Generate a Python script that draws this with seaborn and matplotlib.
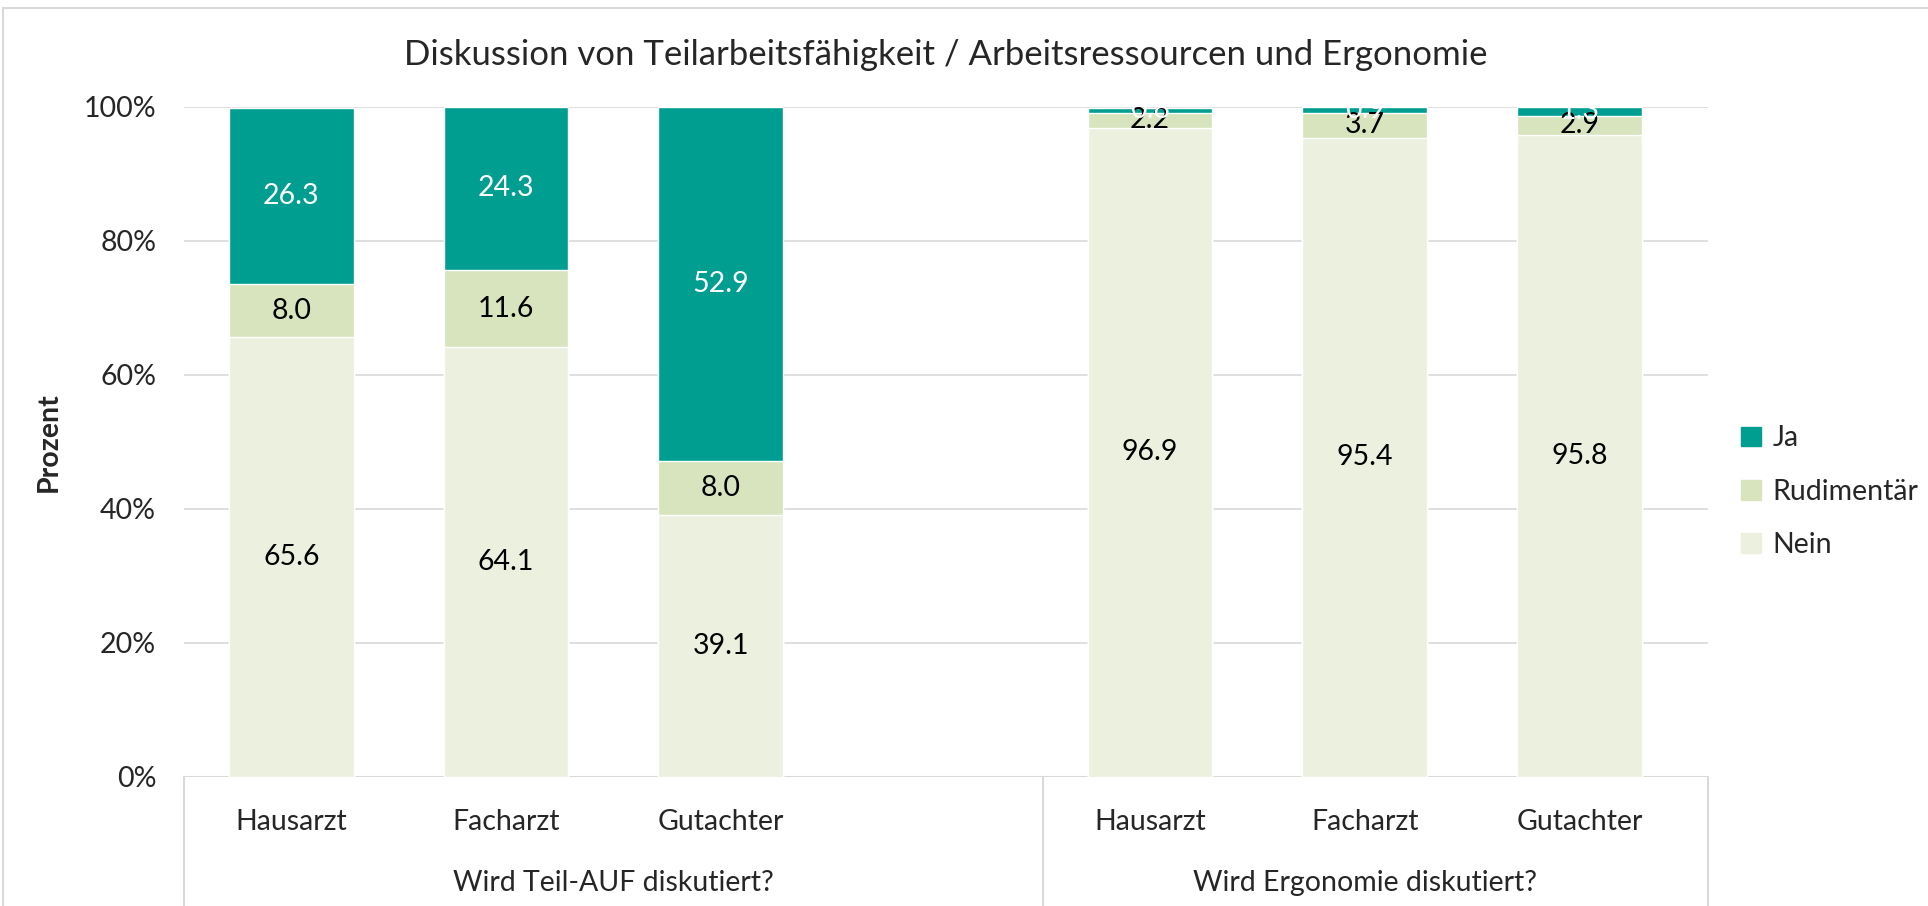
import matplotlib
matplotlib.use("Agg")
import matplotlib.pyplot as plt
import matplotlib.transforms as mtransforms
from matplotlib.patches import Rectangle, Patch
import seaborn as sns
import pandas as pd
import numpy as np

# Data
categories = ["Hausarzt", "Facharzt", "Gutachter", "Hausarzt", "Facharzt", "Gutachter"]
positions = [0, 1, 2, 4, 5, 6]  # empty slot between the two groups
groups = ["Wird Teil-AUF diskutiert?", "Wird Ergonomie diskutiert?"]
ja = [26.3, 24.3, 52.9, 0.8, 0.9, 1.3]
rudimentaer = [8.0, 11.6, 8.0, 2.2, 3.7, 2.9]
nein = [65.6, 64.1, 39.1, 96.9, 95.4, 95.8]

c_ja = "#009E91"
c_rud = "#D7E4BD"
c_nein = "#EBF1DE"

df = pd.DataFrame({"pos": positions, "cat": categories,
                   "Ja": ja, "Rudimentär": rudimentaer, "Nein": nein})
df["top_rud"] = df["Nein"] + df["Rudimentär"]
df["top_ja"] = df["top_rud"] + df["Ja"]

sns.set_style("white")
plt.rcParams["font.family"] = ["Lato", "DejaVu Sans"]

fig = plt.figure(figsize=(19.28, 9.06), dpi=100)
ax = fig.add_axes([0.0954, 0.1424, 0.7906, 0.7396])

# stacked bars drawn back to front (cumulative heights)
bw = 0.58
sns.barplot(data=df, x="pos", y="top_ja", native_scale=True, color=c_ja,
            width=bw, saturation=1, ax=ax, zorder=2)
sns.barplot(data=df, x="pos", y="top_rud", native_scale=True, color=c_rud,
            width=bw, saturation=1, ax=ax, zorder=3)
sns.barplot(data=df, x="pos", y="Nein", native_scale=True, color=c_nein,
            width=bw, saturation=1, ax=ax, zorder=4)

# data labels
fs = 20.5
for _, r in df.iterrows():
    ax.text(r["pos"], r["Nein"] / 2, f"{r['Nein']:.1f}", ha="center", va="center",
            fontsize=fs, color="black", zorder=6)
    ax.text(r["pos"], r["Nein"] + r["Rudimentär"] / 2, f"{r['Rudimentär']:.1f}",
            ha="center", va="center", fontsize=fs, color="black", zorder=6)
    ax.text(r["pos"], r["top_rud"] + r["Ja"] / 2, f"{r['Ja']:.1f}", ha="center",
            va="center", fontsize=fs, color="white", zorder=7)

ax.set_xlim(-0.5, 6.6)
ax.set_ylim(0, 100)
ax.set_yticks(np.arange(0, 101, 20))
ax.set_yticklabels([f"{v}%" for v in range(0, 101, 20)], fontsize=fs)
ax.yaxis.grid(True, color="#D9D9D9", linewidth=1.2, zorder=0)
ax.set_axisbelow(True)
for s in ax.spines.values():
    s.set_visible(False)
ax.tick_params(axis="y", length=0, pad=20)

ax.set_xticks(positions)
ax.set_xticklabels(categories, fontsize=fs)
ax.tick_params(axis="x", length=0, pad=23)
ax.set_xlabel("")
ax.set_ylabel("Prozent", fontsize=fs, fontweight="bold", labelpad=16)

# baseline and group separators below the axis
ax.axhline(0, color="#D9D9D9", linewidth=1.5, zorder=1)
trans = mtransforms.blended_transform_factory(ax.transData, ax.transAxes)
for xv in [-0.5, 3.5, 6.6]:
    ax.plot([xv, xv], [0, -0.2], transform=trans, color="#D9D9D9",
            linewidth=1.5, clip_on=False)
for label, xc in zip(groups, [1.5, 5.0]):
    ax.text(xc, -0.158, label, transform=trans, ha="center", va="center",
            fontsize=fs)

ax.set_title("Diskussion von Teilarbeitsfähigkeit / Arbeitsressourcen und Ergonomie",
             fontsize=25, pad=30)

handles = [Patch(color=c_ja, label="Ja"), Patch(color=c_rud, label="Rudimentär"),
           Patch(color=c_nein, label="Nein")]
ax.legend(handles=handles, loc="center left", bbox_to_anchor=(1.005, 0.426),
          frameon=False, fontsize=fs, handlelength=0.7, handleheight=0.7,
          handletextpad=0.4, labelspacing=0.95)

# chart area border
fig.patches.append(Rectangle((3 / 1928, -0.1), 1.2, 1 - 8 / 906 + 0.1,
                             transform=fig.transFigure, fill=False,
                             edgecolor="#D9D9D9", linewidth=1.5))

fig.savefig("out.png", dpi=100)
